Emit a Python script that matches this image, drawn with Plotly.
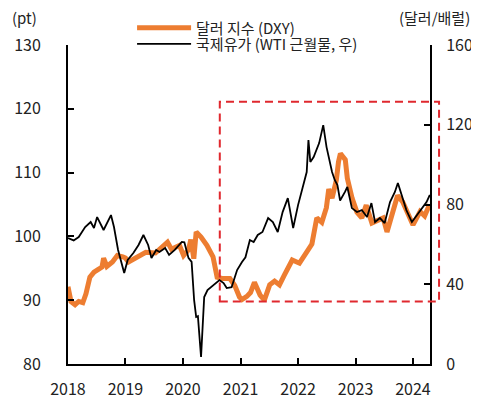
import plotly.graph_objects as go
import pandas as pd

dxy_dates = ["2018-01-01","2018-01-20","2018-02-15","2018-03-10","2018-04-05","2018-04-25","2018-05-20","2018-06-15",
             "2018-07-10","2018-08-05","2018-08-15","2018-09-05","2018-10-10","2018-11-10","2018-12-15","2019-01-01",
             "2019-01-20","2019-02-15","2019-03-20","2019-05-10","2019-07-10","2019-08-15","2019-09-25","2019-10-20",
             "2019-12-10","2020-01-05","2020-02-05","2020-02-20","2020-03-10","2020-03-25","2020-04-25","2020-06-01",
             "2020-07-10","2020-08-05","2020-09-05","2020-10-25","2020-11-25","2020-12-25","2021-01-10","2021-02-10",
             "2021-03-05","2021-03-30","2021-05-05","2021-06-01","2021-07-05","2021-08-05","2021-09-05","2021-10-05",
             "2021-11-25","2022-01-10","2022-02-25","2022-03-30","2022-04-30","2022-06-01","2022-06-30","2022-07-15",
             "2022-08-05","2022-09-01","2022-09-15","2022-09-27","2022-10-28","2022-11-10","2022-12-10","2023-01-10",
             "2023-02-10","2023-03-10","2023-04-15","2023-05-20","2023-06-25","2023-07-20","2023-08-25","2023-09-25",
             "2023-10-28","2023-11-28","2024-01-01","2024-02-15","2024-03-15","2024-04-15"]
dxy_values = [92.1,89.8,89.3,89.8,89.6,91.0,93.6,94.4,
              94.8,95.2,96.6,95.3,96.0,97.0,96.8,96.6,
              96.0,96.4,96.8,97.5,97.4,98.2,99.1,98.0,
              98.6,97.0,97.9,99.5,96.5,100.7,99.9,98.6,
              96.8,93.6,93.4,93.4,92.3,90.5,90.1,90.6,
              91.2,92.8,90.8,90.0,92.4,93.0,92.4,93.9,
              96.3,95.8,97.5,98.8,102.9,102.2,104.5,107.4,
              106.0,108.8,111.7,113.0,112.0,109.1,106.0,103.8,
              102.9,104.9,102.1,102.4,102.9,100.7,103.8,106.4,
              105.4,103.5,101.8,103.9,103.2,105.0]

wti_dates = ["2018-01-01","2018-02-06","2018-03-10","2018-04-20","2018-05-25","2018-06-15","2018-07-05","2018-08-15",
             "2018-10-01","2018-10-20","2018-11-15","2018-12-24","2019-01-15","2019-02-20","2019-03-25","2019-04-25",
             "2019-05-25","2019-06-15","2019-07-15","2019-08-05","2019-09-10","2019-10-05","2019-11-10","2019-12-25",
             "2020-01-10","2020-02-05","2020-02-25","2020-03-12","2020-03-25","2020-04-05","2020-04-25","2020-05-15",
             "2020-06-05","2020-07-10","2020-08-20","2020-09-15","2020-10-05","2020-11-05","2020-12-10","2021-01-10",
             "2021-02-01","2021-03-01","2021-03-25","2021-04-20","2021-05-20","2021-06-25","2021-07-25","2021-08-25",
             "2021-09-25","2021-10-28","2021-12-01","2022-01-01","2022-02-01","2022-02-25","2022-03-08","2022-03-20",
             "2022-04-10","2022-05-15","2022-06-10","2022-07-01","2022-08-05","2022-08-22","2022-09-08","2022-09-25",
             "2022-10-26","2022-11-10","2022-12-09","2023-01-10","2023-02-10","2023-03-15","2023-04-12","2023-05-05",
             "2023-06-05","2023-07-05","2023-08-08","2023-09-08","2023-09-27","2023-10-20","2023-11-20","2023-12-25",
             "2024-01-25","2024-02-25","2024-03-27","2024-04-17"]
wti_values = [63.2,62.0,63.7,68.7,71.2,68.2,73.7,67.2,
              74.7,68.7,57.2,45.6,52.2,55.7,59.7,64.7,
              59.7,53.2,57.2,56.2,58.2,54.7,57.2,61.2,
              61.0,53.2,51.2,32.0,23.6,24.0,3.5,33.6,
              37.1,39.6,42.1,40.6,38.1,38.5,47.1,51.2,
              53.5,62.2,61.2,64.7,66.2,73.2,71.2,66.2,
              76.2,83.2,68.2,79.7,88.8,96.3,112.3,101.3,
              103.8,110.8,119.8,108.8,96.3,92.3,89.8,82.0,
              86.3,88.8,78.2,76.2,77.2,73.7,80.7,71.2,
              73.2,70.7,81.2,86.3,90.8,84.8,77.2,71.2,
              74.7,78.2,81.2,84.8]

left_ticks = [80, 90, 100, 110, 120, 130]
right_ticks = [0, 40, 80, 120, 160]
year_ticks = ["2018-01-01","2019-01-01","2020-01-01","2021-01-01","2022-01-01","2023-01-01","2024-01-01"]
year_labels = ["2018","2019","2020","2021","2022","2023","2024"]
x_range = ["2018-01-01", "2024-04-18"]

# highlighted period box (data terms)
box_start = "2020-08-22"
box_end_px_frac = 1.025   # box extends slightly beyond right axis
box_low, box_high = 89.8, 121.1

FONT = "Noto Sans CJK KR"
ORANGE = "#ED7D31"

fig = go.Figure()
fig.add_trace(go.Scatter(x=dxy_dates, y=dxy_values, name="달러 지수 (DXY)", mode="lines",
                         line=dict(color=ORANGE, width=5), yaxis="y", legend="legend"))
fig.add_trace(go.Scatter(x=wti_dates, y=wti_values, name="국제유가 (WTI 근월물, 우)", mode="lines",
                         line=dict(color="black", width=1.8), yaxis="y2", legend="legend2"))

t0 = pd.Timestamp(x_range[0]); t1 = pd.Timestamp(x_range[1])
bx0 = (pd.Timestamp(box_start) - t0) / (t1 - t0)
by0 = (box_low - left_ticks[0]) / (left_ticks[-1] - left_ticks[0])
by1 = (box_high - left_ticks[0]) / (left_ticks[-1] - left_ticks[0])
fig.add_shape(type="rect", xref="paper", yref="paper", x0=bx0, x1=box_end_px_frac, y0=by0, y1=by1,
              line=dict(color="#E0282E", width=2, dash="8px,5px"), fillcolor="rgba(0,0,0,0)")

axis_common = dict(showgrid=False, zeroline=False, showline=True, linecolor="black", linewidth=2,
                   ticks="inside", ticklen=6, tickwidth=2, tickcolor="black",
                   tickfont=dict(family=FONT, size=16, color="#222"))

leg_common = dict(xanchor="left", yanchor="middle", bgcolor="rgba(0,0,0,0)",
                  font=dict(family=FONT, size=15, color="#222"), itemwidth=54)

# page body has an 8px default offset; figure is sized to fit the remaining window
fig.update_layout(
    width=471, height=391,
    margin=dict(l=60, r=49, t=37, b=35, autoexpand=False),
    paper_bgcolor="white", plot_bgcolor="white",
    font=dict(family=FONT, size=15, color="#222"),
    xaxis=dict(type="date", range=x_range, tickvals=year_ticks, ticktext=year_labels,
               ticklabelstandoff=10, **axis_common),
    yaxis=dict(range=[left_ticks[0], left_ticks[-1]], tickvals=left_ticks, ticklabelstandoff=22, **axis_common),
    yaxis2=dict(range=[right_ticks[0], right_ticks[-1]], tickvals=right_ticks, overlaying="y", side="right",
                ticklabelstandoff=11, ticklabeloverflow="allow", **axis_common),
    legend=dict(x=0.177, y=1.053, **leg_common),
    legend2=dict(x=0.177, y=1.003, **leg_common),
    showlegend=True,
)
fig.add_annotation(text="(pt)", xref="paper", yref="paper", x=-0.160, y=1.085, xanchor="left", yanchor="middle",
                   showarrow=False, font=dict(family=FONT, size=15, color="#222"))
fig.add_annotation(text="(달러/배럴)", xref="paper", yref="paper", x=1.116, y=1.085, xanchor="right", yanchor="middle",
                   showarrow=False, font=dict(family=FONT, size=15, color="#222"))

fig.write_html("out.html")
